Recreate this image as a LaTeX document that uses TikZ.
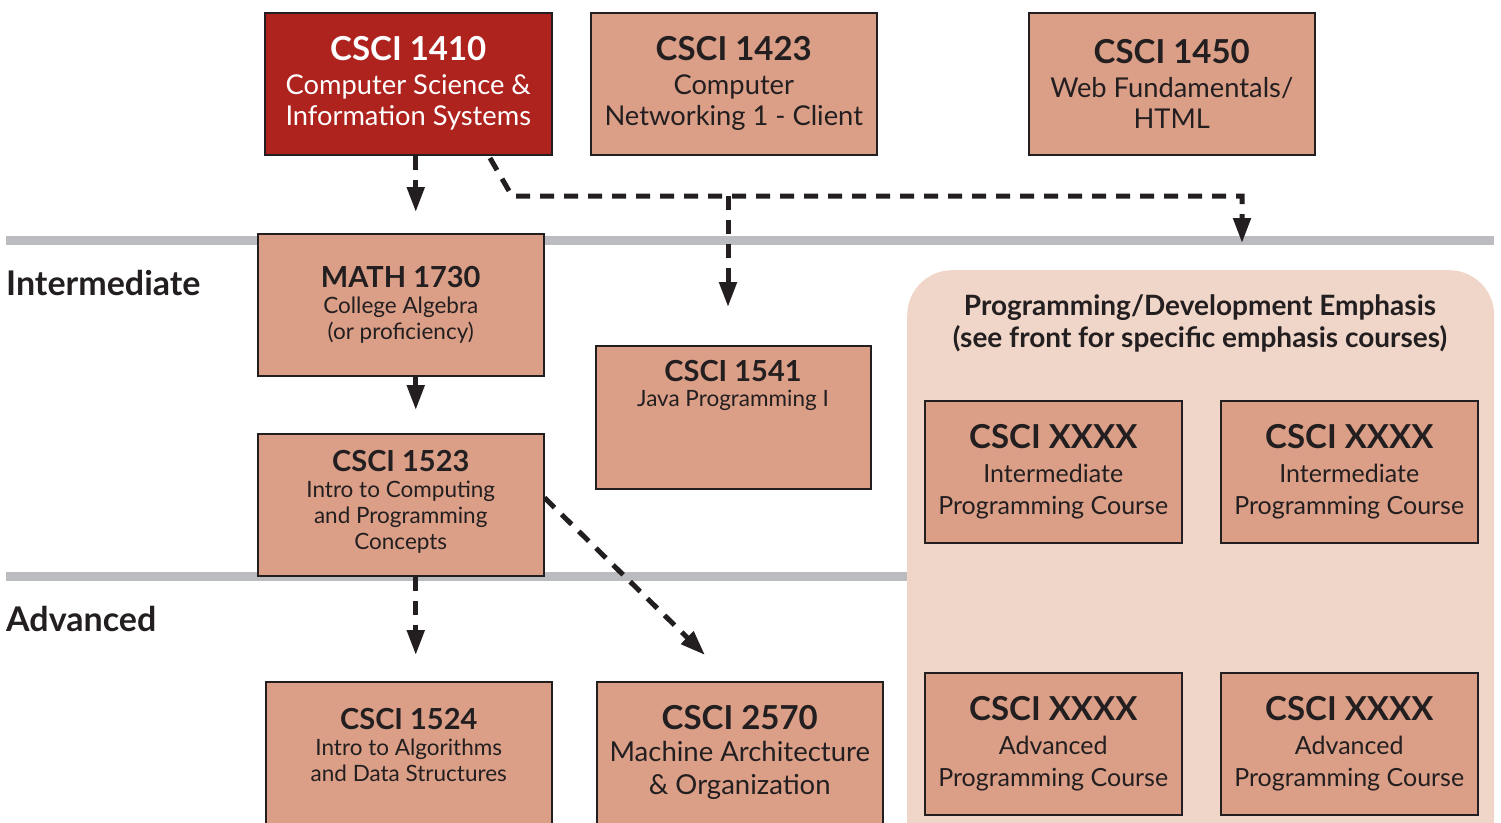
\documentclass[tikz,border=0pt]{standalone}
\usepackage{fontspec}
\setmainfont{Lato}
\usetikzlibrary{arrows.meta}
\definecolor{csred}{HTML}{AF231E}
\definecolor{salmon}{HTML}{DB9E87}
\definecolor{blush}{HTML}{F0D6C9}
\definecolor{rulegray}{HTML}{BBBCC0}
\definecolor{ink}{HTML}{231F20}
\newcommand\hdA[1]{{\fontsize{33}{33}\selectfont\bfseries #1}}
\newcommand\hdB[1]{{\fontsize{29}{29}\selectfont\bfseries #1}}
\tikzset{
  course/.style={draw=ink, line width=1.5pt, fill=salmon, text=ink, align=center,
    minimum width=286pt, minimum height=142pt, inner sep=0pt, anchor=north west},
  bigtxt/.style={font=\fontsize{27.3}{31}\selectfont},
  archtxt/.style={font=\fontsize{27.5}{33}\selectfont},
  smalltxt/.style={font=\fontsize{22.5}{26}\selectfont},
  xxtxt/.style={font=\fontsize{25}{32}\selectfont},
  flow/.style={draw=ink, line width=5pt, dash pattern=on 14pt off 10pt,
    -{Triangle[length=25pt,width=17pt]}},
  rulebar/.style={draw=rulegray, line width=9pt},
  levellabel/.style={anchor=base west, font=\fontsize{34}{34}\selectfont\bfseries, text=ink, inner sep=0pt}
}
\begin{document}
\begin{tikzpicture}[x=1pt,y=-1pt]
\useasboundingbox (0,0) rectangle (1501,822);
% level rules
\coordinate (r1a) at (6,240); \coordinate (r1b) at (1494,240);
\coordinate (r2a) at (6,576); \coordinate (r2b) at (1494,576);
\draw[rulebar] (r1a) -- (r1b);
\draw[rulebar] (r2a) -- (r2b);
\node[levellabel] (lint) at (6,295) {Intermediate};
\node[levellabel] (ladv) at (6,631) {Advanced};
% emphasis panel
\node[fill=blush, rounded corners=45pt, minimum width=587pt, minimum height=620pt,
  anchor=north west, inner sep=0pt] (emph) at (907,270) {};
\node[align=center, anchor=north, text=ink, inner sep=0pt,
  font=\fontsize{28}{32}\selectfont\bfseries] (emtitle) at (1200,294)
  {Programming/Development Emphasis\\(see front for specific emphasis courses)};
% top row
\node[course, bigtxt, fill=csred, text=white, minimum width=287pt] (c1410) at (264,12)
  {\hdA{CSCI 1410}\\[3pt]Computer Science \&\\Information Systems};
\node[course, bigtxt] (c1423) at (590,12)
  {\hdA{CSCI 1423}\\[3pt]Computer\\Networking 1 - Client};
\node[course, bigtxt] (c1450) at (1028,12)
  {\hdA{CSCI 1450}\\[3pt]Web Fundamentals/\\HTML};
% intermediate
\node[course, smalltxt] (m1730) at (257,233)
  {\hdB{MATH 1730}\\College Algebra\\(or proficiency)};
\node[course, minimum width=275pt, minimum height=143pt] (c1541) at (595,345) {};
\node[anchor=base, inner sep=0pt, text=ink] (t1541) at (733,381) {\hdB{CSCI 1541}};
\node[anchor=base, inner sep=0pt, text=ink, smalltxt] (s1541) at (733,406) {Java Programming I};
\node[course, smalltxt] (c1523) at (257,433)
  {\hdB{CSCI 1523}\\Intro to Computing\\and Programming\\Concepts\\[-16pt]};
% advanced
\node[course, smalltxt, minimum height=150pt] (c1524) at (265,681)
  {\hdB{CSCI 1524}\\Intro to Algorithms\\and Data Structures\\[-2pt]};
\node[course, archtxt, minimum height=142pt] (c2570) at (596,681)
  {\hdA{CSCI 2570}\\[-1pt]Machine Architecture\\\& Organization};
% emphasis courses
\node[course, xxtxt, minimum width=257pt] (x1) at (924,400)
  {\hdA{CSCI XXXX}\\[2pt]Intermediate\\Programming Course};
\node[course, xxtxt, minimum width=257pt] (x2) at (1220,400)
  {\hdA{CSCI XXXX}\\[2pt]Intermediate\\Programming Course};
\node[course, xxtxt, minimum width=257pt] (x3) at (924,672)
  {\hdA{CSCI XXXX}\\[2pt]Advanced\\Programming Course};
\node[course, xxtxt, minimum width=257pt] (x4) at (1220,672)
  {\hdA{CSCI XXXX}\\[2pt]Advanced\\Programming Course};
% connectors
\draw[flow, shorten >=21pt] ([xshift=7.5pt]c1410.south) -- ([xshift=7.5pt]c1410.south |- m1730.north);
\draw[flow, shorten >=23pt] ([xshift=15pt]m1730.south) -- ([xshift=15pt]m1730.south |- c1523.north);
\draw[flow, shorten >=26pt] ([xshift=15pt]c1523.south) -- ([xshift=15pt]c1523.south |- c1524.north);
\coordinate (a2570) at (705,655);
\draw[flow] ([yshift=7pt]c1523.east) -- (a2570);
\coordinate (k0) at (490,158);
\coordinate (k1) at (512,196);
\coordinate (k2) at (1242,196);
\coordinate (k3) at (728,196);
\coordinate (eTop) at (1242,243);
\draw[flow] (k0) -- (k1) -- (k2) -- (eTop);
\draw[flow, shorten >=38pt] (k3) -- (k3 |- c1541.north);
\end{tikzpicture}
\end{document}
